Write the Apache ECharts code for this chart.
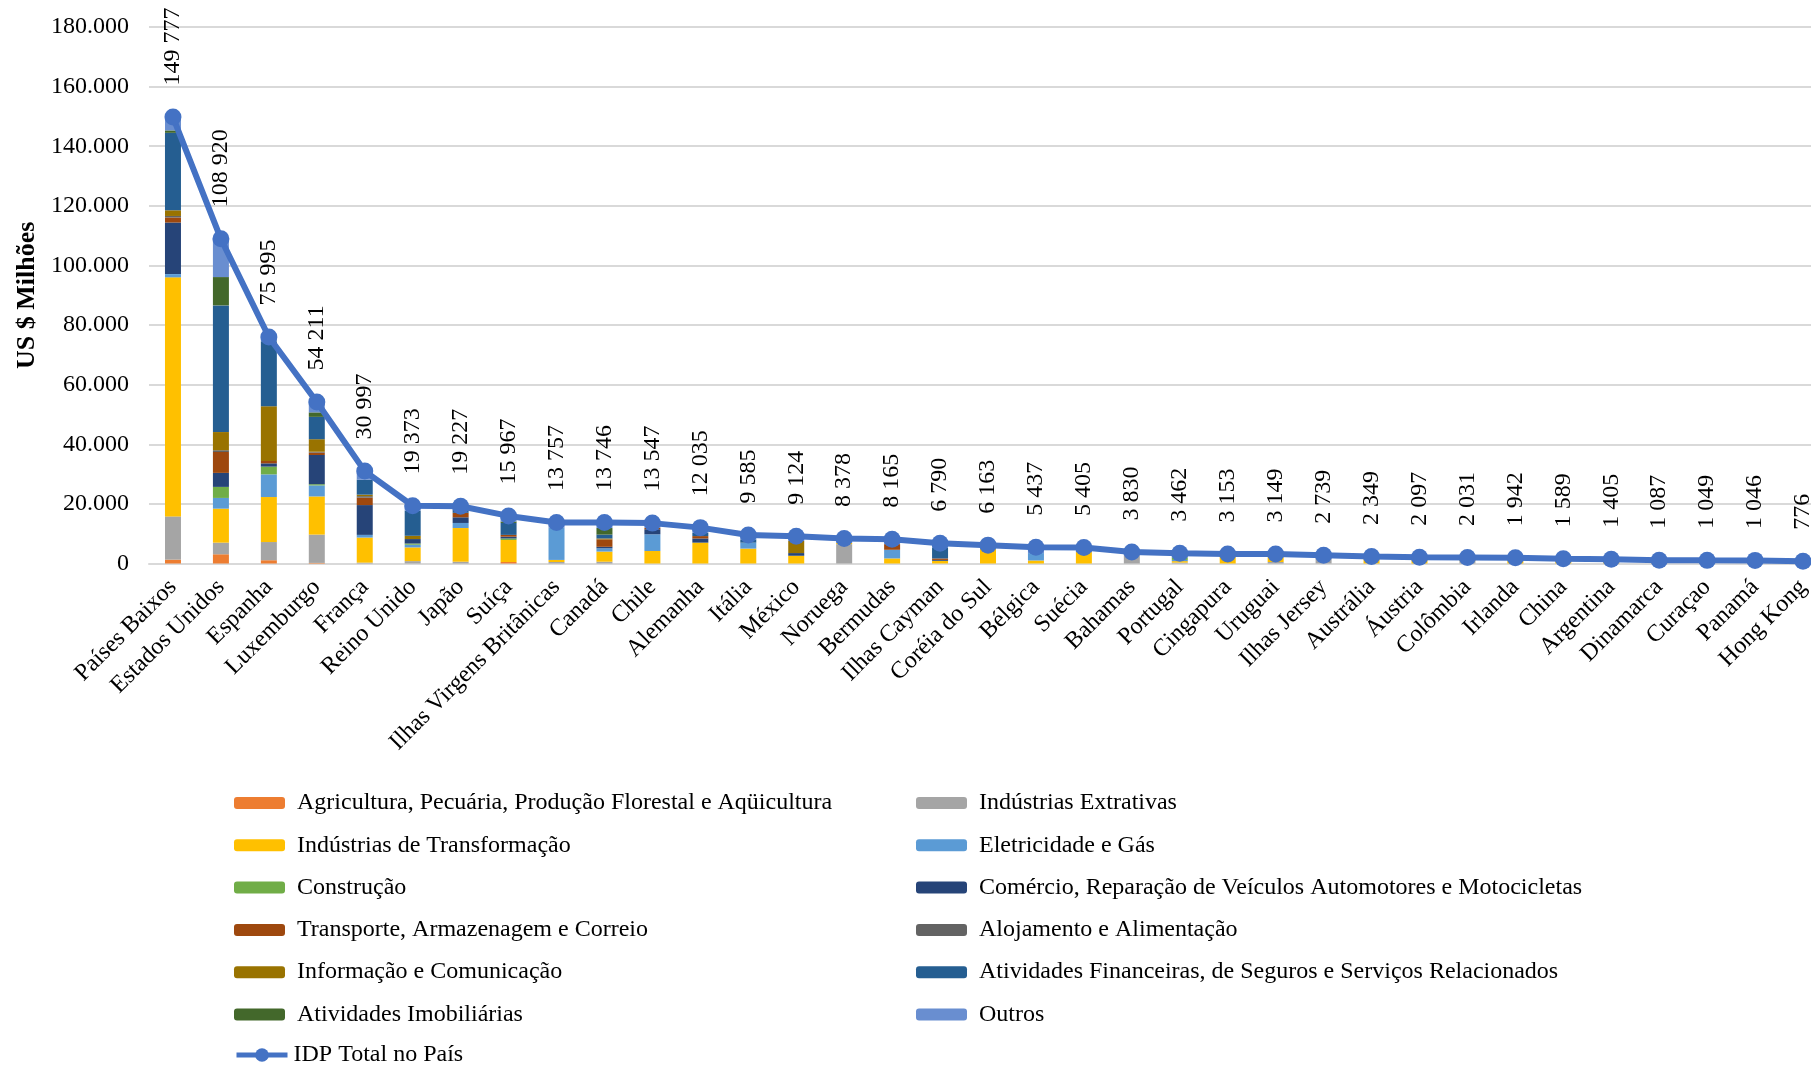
<!DOCTYPE html>
<html>
<head>
<meta charset="utf-8">
<script src="https://cdn.jsdelivr.net/npm/echarts@6/dist/echarts.min.js"></script>
<style>
html,body{margin:0;padding:0;background:#fff;overflow:hidden;}
#chart{width:1840px;height:1067px;}
</style>
</head>
<body>
<div id="chart"></div>
<script>
const categories = ["Países Baixos","Estados Unidos","Espanha","Luxemburgo","França","Reino Unido","Japão","Suíça","Ilhas Virgens Britânicas","Canadá","Chile","Alemanha","Itália","México","Noruega","Bermudas","Ilhas Cayman","Coréia do Sul","Bélgica","Suécia","Bahamas","Portugal","Cingapura","Uruguai","Ilhas Jersey","Austrália","Áustria","Colômbia","Irlanda","China","Argentina","Dinamarca","Curaçao","Panamá","Hong Kong"];

const totalIDP = [149777,108920,75995,54211,30997,19373,19227,15967,13757,13746,13547,12035,9585,9124,8378,8165,6790,6163,5437,5405,3830,3462,3153,3149,2739,2349,2097,2031,1942,1589,1405,1087,1049,1046,776];

const agricultura   = [1300,3100,1100,200,0,0,0,500,0,0,0,0,0,0,0,0,0,0,0,0,0,0,0,0,0,0,0,0,0,0,0,0,0,0,0];
const extrativas    = [14500,3900,6100,9500,300,800,600,0,500,600,0,0,0,0,6500,0,0,0,0,0,2800,300,0,500,2000,0,0,800,0,0,0,0,0,0,0];
const transformacao = [80200,11400,15100,12800,8400,4600,11300,7400,700,3400,4200,7000,5000,2600,400,1700,900,5000,1000,3800,0,500,2300,1700,0,1600,1400,500,1300,1000,800,500,0,0,0];
const eletricidade  = [1100,3600,7600,3700,900,900,1700,0,10800,1100,5600,0,2000,0,0,2900,0,0,2500,0,0,400,0,0,0,0,0,0,0,0,0,0,0,0,0];
const construcao    = [0,3700,2600,400,0,400,0,500,0,0,0,0,0,0,0,0,0,0,0,0,0,900,0,0,0,0,0,0,0,0,0,0,0,0,0];
const comercio      = [17300,4700,1100,9800,10000,1500,1900,600,0,500,1700,1400,0,900,0,0,300,0,0,300,0,0,0,0,0,0,0,0,0,0,0,0,0,500,0];
const transporte    = [1700,7000,800,800,2500,0,1500,600,0,2500,500,800,0,0,0,1900,500,0,0,0,0,0,0,0,0,0,0,0,0,0,0,0,0,0,0];
const alojamento    = [500,600,0,300,500,0,0,0,0,0,0,0,0,0,0,0,0,0,0,0,0,0,0,0,0,0,0,0,0,0,0,0,0,0,0];
const informacao    = [1900,6100,18400,4200,500,1100,0,0,0,300,0,0,0,4100,0,0,0,0,0,0,0,0,0,0,0,0,0,0,0,0,0,0,0,0,0];
const financeiras   = [26000,42500,21800,7500,5000,8400,1200,4000,0,1300,0,1100,1100,0,0,0,3700,0,0,0,0,0,0,0,0,0,0,0,0,0,0,0,500,0,400];
const imobiliarias  = [800,9500,0,1500,0,0,0,500,0,2200,0,0,0,0,0,0,0,0,0,0,0,0,0,0,0,0,0,0,0,0,0,0,0,0,0];
const outros        = [4400,12800,1400,3500,2900,1600,1000,1800,1700,1700,1500,1700,1400,1500,1400,1500,1400,1100,1900,1300,1000,1400,850,950,700,700,700,700,600,600,600,600,500,500,350];

const yTicks = {min:0, max:180000, interval:20000};

const sectors = [
  {name:"Agricultura, Pecuária, Produção Florestal e Aqüicultura", data:agricultura, color:"#ED7D31"},
  {name:"Indústrias Extrativas", data:extrativas, color:"#A5A5A5"},
  {name:"Indústrias de Transformação", data:transformacao, color:"#FFC000"},
  {name:"Eletricidade e Gás", data:eletricidade, color:"#5B9BD5"},
  {name:"Construção", data:construcao, color:"#70AD47"},
  {name:"Comércio, Reparação de Veículos Automotores e Motocicletas", data:comercio, color:"#264478"},
  {name:"Transporte, Armazenagem e Correio", data:transporte, color:"#9E480E"},
  {name:"Alojamento e Alimentação", data:alojamento, color:"#636363"},
  {name:"Informação e Comunicação", data:informacao, color:"#997300"},
  {name:"Atividades Financeiras, de Seguros e Serviços Relacionados", data:financeiras, color:"#255E91"},
  {name:"Atividades Imobiliárias", data:imobiliarias, color:"#43682B"},
  {name:"Outros", data:outros, color:"#698ED0"}
];
const lineName = "IDP Total no País";

const FONT = '"Liberation Serif","Times New Roman",serif';
const fmtSpace = v => String(v).replace(/\B(?=(\d{3})+(?!\d))/g, ' ');
const fmtDot = v => String(v).replace(/\B(?=(\d{3})+(?!\d))/g, '.');

const series = sectors.map(s => ({
  name: s.name, type: 'bar', stack: 'idp', data: s.data, barWidth: 16,
  itemStyle: {color: s.color}, emphasis: {disabled: true}
}));
series.push({
  name: lineName, type: 'line', data: totalIDP, z: 5,
  symbol: 'circle', symbolSize: 17,
  lineStyle: {color: '#4472C4', width: 6},
  itemStyle: {color: '#4472C4'},
  label: {
    show: true, position: 'top', rotate: 90, distance: 23,
    align: 'left', verticalAlign: 'middle',
    fontFamily: FONT, fontSize: 24, color: '#000',
    formatter: p => fmtSpace(p.value)
  }
});

const legendText = {fontFamily: FONT, fontSize: 24, color: '#000', padding: [0,0,0,7], lineHeight: 24};
const leftCol = [sectors[0].name, sectors[2].name, sectors[4].name, sectors[6].name, sectors[8].name, sectors[10].name];
const rightCol = [sectors[1].name, sectors[3].name, sectors[5].name, sectors[7].name, sectors[9].name, sectors[11].name];
const legendCommon = {orient: 'vertical', itemWidth: 51, itemHeight: 12, itemGap: 18.3, textStyle: legendText, selectedMode: false};

const chart = echarts.init(document.getElementById('chart'), null, {renderer: 'canvas'});
chart.setOption({
  animation: false,
  backgroundColor: '#fff',
  grid: {left: 149, top: 27, width: 1678, height: 536.5},
  legend: [
    Object.assign({left: 229, top: 786, data: leftCol}, legendCommon),
    Object.assign({left: 911, top: 786, data: rightCol}, legendCommon),
    {orient: 'vertical', left: 229, top: 1038, data: [lineName], selectedMode: false,
     itemWidth: 51, itemHeight: 17,
     lineStyle: {width: 5},
     textStyle: {fontFamily: FONT, fontSize: 24, color: '#000', padding: [0,0,0,1], lineHeight: 24}}
  ],
  xAxis: {
    type: 'category', data: categories,
    axisLine: {lineStyle: {color: '#D9D9D9', width: 2}},
    axisTick: {show: false},
    axisLabel: {interval: 0, rotate: 45, margin: 20, fontFamily: FONT, fontSize: 24, color: '#000'}
  },
  yAxis: {
    type: 'value', min: yTicks.min, max: yTicks.max, interval: yTicks.interval,
    name: 'US $ Milhões', nameLocation: 'middle', nameGap: 105,
    nameTextStyle: {fontFamily: FONT, fontSize: 26, fontWeight: 'bold', color: '#000'},
    axisLine: {show: false}, axisTick: {show: false},
    splitLine: {lineStyle: {color: '#D9D9D9', width: 2}},
    axisLabel: {fontFamily: FONT, fontSize: 24, color: '#000', margin: 20, formatter: v => fmtDot(v)}
  },
  series: series
});
</script>
</body>
</html>
